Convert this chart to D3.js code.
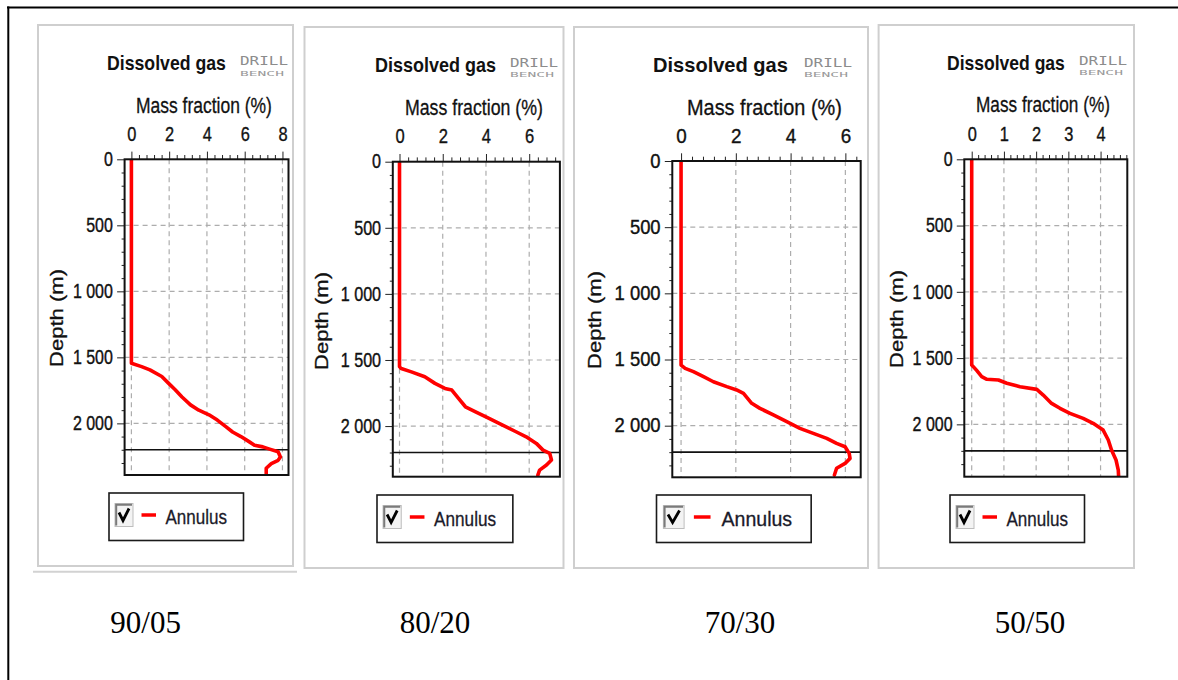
<!DOCTYPE html>
<html>
<head>
<meta charset="utf-8">
<script src="https://cdn.jsdelivr.net/npm/d3@7"></script>
<style>
  body { margin: 0; background: #fff; }
  svg { display: block; }
</style>
</head>
<body>
<svg id="chart" width="1178" height="680"></svg>
<script>
// Dissolved gas mass fraction in the annulus versus depth, one panel per mixture ratio.
const ratios = ["90/05", "80/20", "70/30", "50/50"];
const seriesName = "Annulus";
const panelTitle = "Dissolved gas";
const xAxisTitle = "Mass fraction (%)";
const yAxisTitle = "Depth (m)";
const shoeDepth = 2200;
const depthTicks = [0, 500, 1000, 1500, 2000];
const fractionTicks9005 = [0, 2, 4, 6, 8];
const fractionTicks8020 = [0, 2, 4, 6];
const fractionTicks7030 = [0, 2, 4, 6];
const fractionTicks5050 = [0, 1, 2, 3, 4];

// Profiles: depth (m) and dissolved gas mass fraction (%)
const depth9005 = [0, 1545, 1570, 1595, 1645, 1695, 1745, 1800, 1860, 1900, 1935, 1975, 2025, 2065, 2100, 2140, 2165, 2178, 2195, 2215, 2255, 2280, 2305, 2340, 2380];
const frac9005  = [0, 0, 0.54, 0.98, 1.61, 1.96, 2.32, 2.68, 3.13, 3.57, 4.11, 4.55, 5.0, 5.36, 5.8, 6.25, 6.52, 6.96, 7.32, 7.77, 7.89, 7.77, 7.41, 7.14, 7.14];

const depth8020 = [0, 1550, 1565, 1590, 1627, 1677, 1715, 1728, 1791, 1854, 1892, 1942, 1992, 2043, 2081, 2131, 2182, 2207, 2257, 2295, 2333, 2371];
const frac8020  = [0, 0, 0.08, 0.55, 1.17, 1.64, 2.1, 2.42, 2.73, 3.05, 3.52, 4.14, 4.77, 5.39, 5.86, 6.33, 6.64, 6.95, 7.03, 6.8, 6.48, 6.4];

const depth7030 = [0, 1542, 1567, 1592, 1630, 1668, 1705, 1730, 1756, 1831, 1869, 1919, 1970, 2020, 2058, 2096, 2134, 2159, 2209, 2247, 2285, 2322, 2373];
const frac7030  = [0, 0, 0.15, 0.45, 0.82, 1.18, 1.67, 2.03, 2.28, 2.58, 2.88, 3.37, 3.86, 4.34, 4.83, 5.32, 5.68, 5.99, 6.14, 6.17, 5.99, 5.68, 5.6];

const depth5050 = [0, 1552, 1570, 1595, 1640, 1660, 1665, 1690, 1716, 1736, 1779, 1842, 1879, 1917, 1955, 1992, 2043, 2118, 2194, 2269, 2345, 2390];
const frac5050  = [0, 0, 0.07, 0.16, 0.31, 0.47, 0.83, 1.09, 1.5, 2.02, 2.22, 2.48, 2.74, 3.05, 3.46, 3.77, 4.08, 4.24, 4.34, 4.48, 4.55, 4.56];

const profiles = [
  { depth: depth9005, frac: frac9005, ticks: fractionTicks9005 },
  { depth: depth8020, frac: frac8020, ticks: fractionTicks8020 },
  { depth: depth7030, frac: frac7030, ticks: fractionTicks7030 },
  { depth: depth5050, frac: frac5050, ticks: fractionTicks5050 }
];

// Panel geometry and axis extents
const layout = [
  { box: [38, 25, 293, 566], plot: [124.6, 159.3, 288.5, 475], xDom: [-0.36, 8.32], yMax: 2391, minor: 0.4, s: 1.0,
    title: [107, 70, 119], logo: [240, 65], mass: [136, 112.7, 136], depthLbl: [63, 318], legend: [109, 493], caption: [145.6, 633] },
  { box: [304.5, 27, 563.5, 568], plot: [392.8, 161.7, 559.9, 476.7], xDom: [-0.31, 7.42], yMax: 2383, minor: 0.4, s: 1.01,
    title: [375, 72.3, 121], logo: [510, 66.5], mass: [405, 115, 138], depthLbl: [328, 321], legend: [377, 495], caption: [435, 633] },
  { box: [574, 27, 868, 568], plot: [672.3, 161, 860.7, 477.3], xDom: [-0.32, 6.56], yMax: 2390, minor: 0.4, s: 1.15,
    title: [653, 72.3, 135], logo: [804, 66.5], mass: [687, 115, 155], depthLbl: [601, 320], legend: [656.5, 495], caption: [740, 633] },
  { box: [878.6, 25, 1134, 568], plot: [964.3, 159.3, 1127.3, 476.7], xDom: [-0.23, 4.83], yMax: 2395, minor: 0.2, s: 1.0,
    title: [947, 70, 118], logo: [1079, 64.5], mass: [976, 111.7, 134], depthLbl: [903, 319], legend: [950, 495], caption: [1030, 633] }
];

const SANS = "'Liberation Sans', Arial, sans-serif";
const SERIF = "'Liberation Serif', 'Times New Roman', serif";
const MONO = "'DejaVu Sans Mono', monospace";
const INK = "#111";

const svg = d3.select("#chart");
const fmtDepth = d3.formatLocale({ decimal: ".", thousands: " ", grouping: [3], currency: ["", ""] }).format(",d");

// Horizontal squeeze of glyphs, applied through textLength
function squeeze(sel, factor) {
  sel.each(function () {
    const w = this.getComputedTextLength();
    d3.select(this).attr("textLength", w * factor).attr("lengthAdjust", "spacingAndGlyphs");
  });
}

// Text placed at (x, y) and scaled horizontally to a given width
function fittedText(parent, x, y, width, str, attrs) {
  const t = parent.append("text").attr("x", 0).attr("y", 0);
  Object.entries(attrs).forEach(([k, v]) => t.attr(k, v));
  t.text(str);
  const w = t.node().getComputedTextLength();
  t.attr("transform", `translate(${x},${y}) scale(${width / w},1)`);
  return t;
}

// Slightly heavier strokes for the regular-weight labels
function heavy(sel, w) {
  sel.attr("stroke", INK).attr("stroke-width", w).attr("paint-order", "stroke");
}

// Outer frame
svg.append("line").attr("x1", 7).attr("x2", 1178).attr("y1", 7.5).attr("y2", 7.5)
  .attr("stroke", "#000").attr("stroke-width", 2);
svg.append("line").attr("x1", 8.3).attr("x2", 8.3).attr("y1", 6.5).attr("y2", 680)
  .attr("stroke", "#000").attr("stroke-width", 2);
svg.append("line").attr("x1", 33).attr("x2", 297).attr("y1", 571.7).attr("y2", 571.7)
  .attr("stroke", "#d2d2d2").attr("stroke-width", 2);

profiles.forEach((prof, i) => {
  const L = layout[i];
  const g = svg.append("g");
  const [px0, py0, px1, py1] = L.plot;

  // Panel frame
  g.append("rect")
    .attr("x", L.box[0]).attr("y", L.box[1])
    .attr("width", L.box[2] - L.box[0]).attr("height", L.box[3] - L.box[1])
    .attr("fill", "none").attr("stroke", "#cfcfcf").attr("stroke-width", 2);

  // Title and logo
  fittedText(g, L.title[0], L.title[1], L.title[2], panelTitle,
    { "font-family": SANS, "font-weight": "bold", "font-size": 21, "fill": INK });
  fittedText(g, L.logo[0], L.logo[1], 48, "DRILL",
    { "font-family": MONO, "font-size": 12, "fill": "#8c8c8c" });
  fittedText(g, L.logo[0], L.logo[1] + 10.5, 44, "BENCH",
    { "font-family": MONO, "font-size": 6.5, "fill": "#9a9a9a" });

  // Axis titles
  heavy(fittedText(g, L.mass[0], L.mass[1], L.mass[2], xAxisTitle,
    { "font-family": SANS, "font-size": 21.5, "fill": INK }), 0.3);

  heavy(g.append("text")
    .attr("transform", `translate(${L.depthLbl[0]},${L.depthLbl[1]}) rotate(-90)`)
    .attr("text-anchor", "middle")
    .attr("font-family", SANS).attr("font-size", 19).attr("fill", INK)
    .attr("textLength", 98).attr("lengthAdjust", "spacingAndGlyphs")
    .text(yAxisTitle), 0.3);

  // Scales
  const x = d3.scaleLinear().domain(L.xDom).range([px0, px1]);
  const y = d3.scaleLinear().domain([0, L.yMax]).range([py0, py1]);

  // Dashed grid
  const grid = g.append("g").attr("stroke", "#adadad").attr("stroke-width", 1.2).attr("stroke-dasharray", "5,4");
  grid.selectAll("line.v").data(prof.ticks).join("line").attr("class", "v")
    .attr("x1", d => x(d)).attr("x2", d => x(d)).attr("y1", py0).attr("y2", py1);
  grid.selectAll("line.h").data(depthTicks.filter(d => d > 0)).join("line").attr("class", "h")
    .attr("x1", px0).attr("x2", px1).attr("y1", d => y(d)).attr("y2", d => y(d));

  // Top axis: minor and major ticks
  const minorX = d3.range(0, L.xDom[1] + 1e-9, L.minor).filter(v => !prof.ticks.some(t => Math.abs(t - v) < 1e-6));
  const topMinor = g.append("g").attr("transform", `translate(0,${py0})`)
    .call(d3.axisTop(x).tickValues(minorX).tickSize(4.3).tickFormat(""));
  const topMajor = g.append("g").attr("transform", `translate(0,${py0})`)
    .call(d3.axisTop(x).tickValues(prof.ticks).tickSize(7.7).tickPadding(10.8).tickFormat(d3.format("d")));
  [topMinor, topMajor].forEach(a => { a.select(".domain").remove(); a.selectAll("line").attr("stroke", "#222"); });
  topMajor.selectAll("text").attr("font-family", SANS).attr("font-size", 20.5).attr("fill", INK);
  heavy(topMajor.selectAll("text"), 0.35);
  squeeze(topMajor.selectAll("text"), 0.8 * L.s);

  // Left axis: minor every 100 m, major with labels
  const minorY = d3.range(0, L.yMax, 100).filter(v => v % 500 !== 0);
  const leftMinor = g.append("g").attr("transform", `translate(${px0},0)`)
    .call(d3.axisLeft(y).tickValues(minorY).tickSize(3).tickFormat(""));
  const leftMajor = g.append("g").attr("transform", `translate(${px0},0)`)
    .call(d3.axisLeft(y).tickValues(depthTicks).tickSize(7.5).tickPadding(4.2).tickFormat(fmtDepth));
  [leftMinor, leftMajor].forEach(a => { a.select(".domain").remove(); a.selectAll("line").attr("stroke", "#222"); });
  leftMajor.selectAll("text").attr("font-family", SANS).attr("font-size", 19.5).attr("fill", INK);
  heavy(leftMajor.selectAll("text"), 0.4);
  squeeze(leftMajor.selectAll("text"), 0.82 * L.s);

  // Clip region for the profile
  const clipId = `clip${i}`;
  g.append("clipPath").attr("id", clipId).append("rect")
    .attr("x", px0).attr("y", py0).attr("width", px1 - px0).attr("height", py1 - py0);

  // Casing shoe line
  g.append("line").attr("x1", px0).attr("x2", px1).attr("y1", y(shoeDepth)).attr("y2", y(shoeDepth))
    .attr("stroke", "#111").attr("stroke-width", 1.6);

  // Profile curve
  const pts = prof.depth.map((d, k) => [d, prof.frac[k]]);
  g.append("path").datum(pts)
    .attr("clip-path", `url(#${clipId})`)
    .attr("fill", "none").attr("stroke", "#ff0000").attr("stroke-width", 3.6)
    .attr("stroke-linejoin", "round").attr("stroke-linecap", "round")
    .attr("d", d3.line().x(d => x(d[1])).y(d => y(d[0])));

  // Plot border
  g.append("rect").attr("x", px0).attr("y", py0).attr("width", px1 - px0).attr("height", py1 - py0)
    .attr("fill", "none").attr("stroke", "#111").attr("stroke-width", 2);

  // Legend
  const s = L.s;
  const lx = L.legend[0], ly = L.legend[1];
  const lg = g.append("g");
  lg.append("rect").attr("x", lx).attr("y", ly).attr("width", 134.5 * s).attr("height", 47.5)
    .attr("fill", "#fff").attr("stroke", "#1a1a1a").attr("stroke-width", 1.6);
  const cbx = lx + 6 * s, cby = ly + 10.5, cbw = 18 * s, cbh = 23;
  lg.append("rect").attr("x", cbx).attr("y", cby).attr("width", cbw).attr("height", cbh)
    .attr("fill", "#f3f3f3").attr("stroke", "#bdbdbd").attr("stroke-width", 1);
  lg.append("path")
    .attr("d", `M${cbx + 1.2},${cby + cbh - 1} V${cby + 1.2} H${cbx + cbw - 1}`)
    .attr("fill", "none").attr("stroke", "#7a7a7a").attr("stroke-width", 2);
  lg.append("path")
    .attr("d", `M${cbx + 4 * s},${cby + 9} L${cbx + 8 * s},${cby + 17} L${cbx + 14 * s},${cby + 5}`)
    .attr("fill", "none").attr("stroke", "#000").attr("stroke-width", 2.8);
  lg.append("line").attr("x1", lx + 32.5 * s).attr("x2", lx + 47 * s)
    .attr("y1", ly + 22).attr("y2", ly + 22)
    .attr("stroke", "#ff0000").attr("stroke-width", 3.5);
  heavy(fittedText(lg, lx + 56.5 * s, ly + 30.5, 61.5 * s, seriesName,
    { "font-family": SANS, "font-size": 21, "fill": "#1a1a2a" }), 0.3);

  // Mixture ratio caption
  svg.append("text").attr("x", L.caption[0]).attr("y", L.caption[1])
    .attr("text-anchor", "middle").attr("font-family", SERIF).attr("font-size", 31)
    .attr("fill", "#000").text(ratios[i]);
});
</script>
</body>
</html>
